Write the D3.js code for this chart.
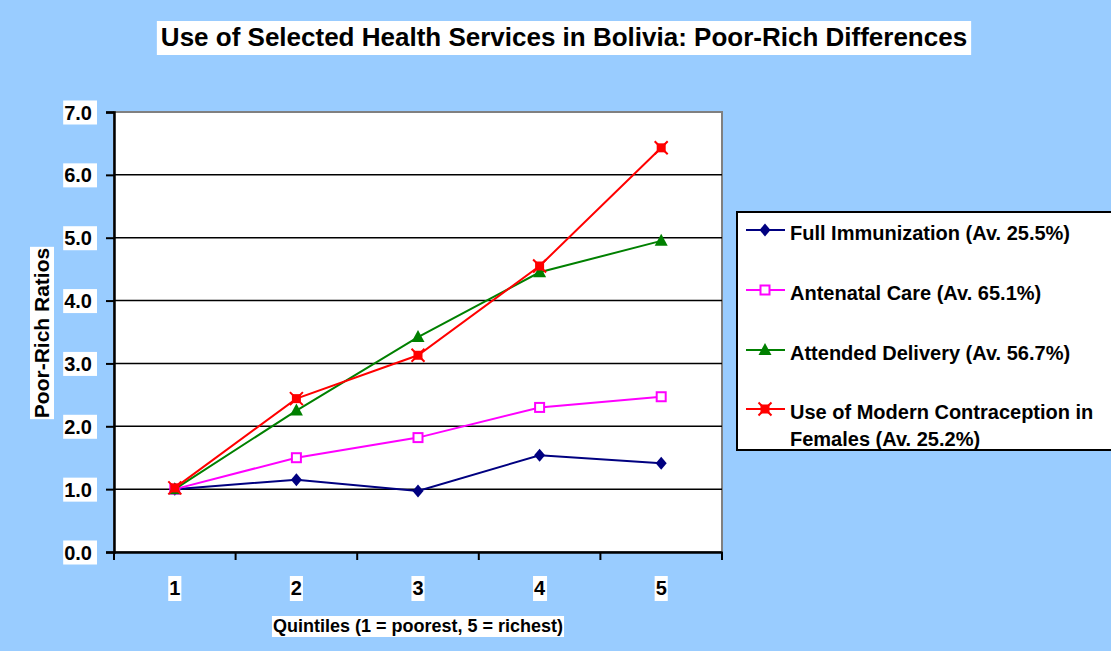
<!DOCTYPE html>
<html>
<head>
<meta charset="utf-8">
<script src="https://cdn.jsdelivr.net/npm/d3@7"></script>
<style>
  html, body { margin: 0; padding: 0; background: #99ccff; }
  svg { display: block; font-family: "Liberation Sans", Arial, sans-serif; }
</style>
</head>
<body>
<svg id="chart"></svg>
<script>
// Poor-rich ratios by wealth quintile, Bolivia
const quintiles = ["1", "2", "3", "4", "5"];
const immunization = [1.0, 1.15, 0.97, 1.54, 1.41];
const antenatal = [1.0, 1.5, 1.82, 2.3, 2.47];
const delivery = [1.0, 2.25, 3.42, 4.45, 4.95];
const contraception = [1.02, 2.44, 3.13, 4.55, 6.43];
const yTicks = [0, 1, 2, 3, 4, 5, 6, 7];

const seriesNames = [
  "Full Immunization (Av. 25.5%)",
  "Antenatal Care (Av. 65.1%)",
  "Attended Delivery (Av. 56.7%)",
  "Use of Modern Contraception in Females (Av. 25.2%)",
];

const W = 1111, H = 651;
const plot = { left: 114, right: 722, top: 112, bottom: 552 };

const series = [
  { name: seriesNames[0], values: immunization, color: "#000080", marker: "diamond" },
  { name: seriesNames[1], values: antenatal, color: "#ff00ff", marker: "square" },
  { name: seriesNames[2], values: delivery, color: "#008000", marker: "triangle" },
  { name: seriesNames[3], values: contraception, color: "#ff0000", marker: "star" },
];

const svg = d3.select("#chart").attr("width", W).attr("height", H);
svg.append("rect").attr("width", W).attr("height", H).attr("fill", "#99ccff");

// put a white box behind a text element
function whiteBox(textSel, padL = 1, padR = 1, padT = 0, padB = 0) {
  const b = textSel.node().getBBox();
  textSel.lower === undefined;
  svg.insert("rect", () => textSel.node())
    .attr("x", b.x - padL).attr("y", b.y - padT)
    .attr("width", b.width + padL + padR).attr("height", b.height + padT + padB)
    .attr("fill", "#fff");
}

// Title
const title = svg.append("text")
  .attr("x", 564).attr("y", 46)
  .attr("text-anchor", "middle")
  .attr("font-size", 26).attr("font-weight", 700)
  .attr("fill", "#000")
  .text("Use of Selected Health Services in Bolivia: Poor-Rich Differences");
whiteBox(title, 4, 4, 1, 3);

const x = d3.scaleBand().domain(quintiles).range([plot.left, plot.right]);
const y = d3.scaleLinear().domain([0, 7]).range([plot.bottom, plot.top]);

// plot area
svg.append("rect")
  .attr("x", plot.left).attr("y", plot.top)
  .attr("width", plot.right - plot.left).attr("height", plot.bottom - plot.top)
  .attr("fill", "#fff").attr("stroke", "#808080").attr("stroke-width", 2);

// gridlines
svg.append("g")
  .selectAll("line")
  .data(yTicks.filter((t) => t > 0 && t < 7))
  .join("line")
  .attr("x1", plot.left).attr("x2", plot.right)
  .attr("y1", (d) => y(d)).attr("y2", (d) => y(d))
  .attr("stroke", "#000").attr("stroke-width", 1.5);

// y axis
const yAxis = svg.append("g")
  .attr("transform", `translate(${plot.left},0)`)
  .call(d3.axisLeft(y).tickValues(yTicks).tickSize(8).tickFormat(() => ""));
yAxis.select(".domain").attr("stroke", "#000").attr("stroke-width", 2.5);
yAxis.selectAll(".tick line").attr("stroke", "#000").attr("stroke-width", 2);

yTicks.forEach((t) => {
  const lbl = svg.append("text")
    .attr("x", 92).attr("y", y(t) + 7.5)
    .attr("text-anchor", "end")
    .attr("font-size", 20).attr("font-weight", 700)
    .text(d3.format(".1f")(t));
  whiteBox(lbl, 1, 5, 1, 1);
});

// x axis (ticks on category boundaries)
const xAxis = svg.append("g")
  .attr("transform", `translate(0,${plot.bottom})`)
  .call(d3.axisBottom(x).tickSize(0).tickFormat(() => ""));
xAxis.select(".domain").attr("stroke", "#000").attr("stroke-width", 2.5);
xAxis.selectAll("line.bound")
  .data(quintiles.map((q) => x(q)).concat([plot.right]))
  .join("line")
  .attr("class", "bound")
  .attr("x1", (d) => d).attr("x2", (d) => d)
  .attr("y1", 0).attr("y2", 8)
  .attr("stroke", "#000").attr("stroke-width", 2);

quintiles.forEach((q) => {
  const lbl = svg.append("text")
    .attr("x", x(q) + x.bandwidth() / 2).attr("y", 595)
    .attr("text-anchor", "middle")
    .attr("font-size", 20).attr("font-weight", 700)
    .text(q);
  whiteBox(lbl, 1, 1, 1, 2);
});

// axis titles
const xTitle = svg.append("text")
  .attr("x", 418).attr("y", 632)
  .attr("text-anchor", "middle")
  .attr("font-size", 18).attr("font-weight", 700)
  .text("Quintiles (1 = poorest, 5 = richest)");
whiteBox(xTitle, 1, 1, 0, 1);

const yTitle = svg.append("text")
  .attr("transform", "translate(49,333) rotate(-90)")
  .attr("text-anchor", "middle")
  .attr("font-size", 21).attr("font-weight", 700)
  .text("Poor-Rich Ratios");
{
  const b = yTitle.node().getBBox();
  svg.insert("rect", () => yTitle.node())
    .attr("transform", "translate(49,333) rotate(-90)")
    .attr("x", b.x - 1).attr("y", b.y)
    .attr("width", b.width + 2).attr("height", b.height + 1)
    .attr("fill", "#fff");
}

// markers
function drawMarker(g, type, color, cx, cy) {
  if (type === "diamond") {
    g.append("path")
      .attr("d", `M${cx},${cy - 6.5}L${cx + 5.5},${cy}L${cx},${cy + 6.5}L${cx - 5.5},${cy}Z`)
      .attr("fill", color);
  } else if (type === "square") {
    g.append("rect")
      .attr("x", cx - 4.5).attr("y", cy - 4.5).attr("width", 9).attr("height", 9)
      .attr("fill", "#fff").attr("stroke", color).attr("stroke-width", 2);
  } else if (type === "triangle") {
    g.append("path")
      .attr("d", `M${cx},${cy - 7}L${cx + 6.5},${cy + 5}L${cx - 6.5},${cy + 5}Z`)
      .attr("fill", color);
  } else if (type === "star") {
    g.append("rect")
      .attr("x", cx - 4.5).attr("y", cy - 4.5).attr("width", 9).attr("height", 9)
      .attr("fill", color);
    g.append("path")
      .attr("d", `M${cx - 6.5},${cy - 6.5}L${cx + 6.5},${cy + 6.5}M${cx + 6.5},${cy - 6.5}L${cx - 6.5},${cy + 6.5}`)
      .attr("stroke", color).attr("stroke-width", 2);
  }
}

const line = d3.line()
  .x((d, i) => x(quintiles[i]) + x.bandwidth() / 2)
  .y((d) => y(d));

series.forEach((s) => {
  const g = svg.append("g");
  g.append("path")
    .attr("d", line(s.values))
    .attr("fill", "none")
    .attr("stroke", s.color)
    .attr("stroke-width", 2);
  s.values.forEach((v, i) => {
    drawMarker(g, s.marker, s.color, x(quintiles[i]) + x.bandwidth() / 2, y(v));
  });
});

// legend
const leg = svg.append("g");
leg.append("rect")
  .attr("x", 737).attr("y", 212).attr("width", 390).attr("height", 238)
  .attr("fill", "#fff").attr("stroke", "#000").attr("stroke-width", 2);

const legendRows = [
  { lineY: 230, lines: [seriesNames[0]] },
  { lineY: 290, lines: [seriesNames[1]] },
  { lineY: 350, lines: [seriesNames[2]] },
  { lineY: 409, lines: ["Use of Modern Contraception in", "Females (Av. 25.2%)"] },
];

legendRows.forEach((r, i) => {
  const s = series[i];
  leg.append("line")
    .attr("x1", 746).attr("x2", 785)
    .attr("y1", r.lineY).attr("y2", r.lineY)
    .attr("stroke", s.color).attr("stroke-width", 2);
  drawMarker(leg, s.marker, s.color, 765, r.lineY);
  r.lines.forEach((t, k) => {
    leg.append("text")
      .attr("x", 790).attr("y", r.lineY + 10 + k * 27)
      .attr("font-size", 20).attr("font-weight", 700)
      .text(t);
  });
});
</script>
</body>
</html>
